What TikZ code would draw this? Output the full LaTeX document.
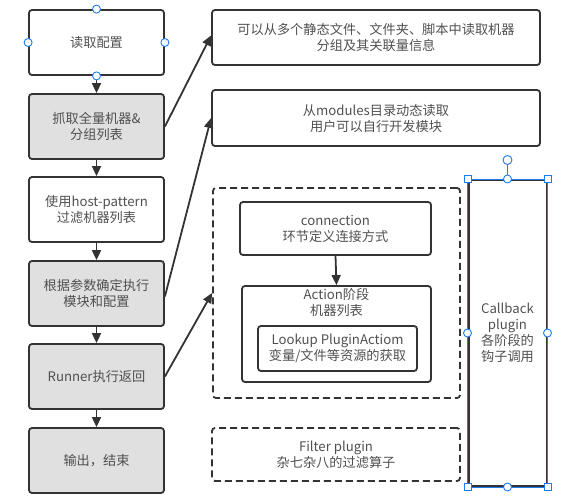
\documentclass[tikz,border=0pt]{standalone}
\usepackage{fontspec}
\setmainfont{Noto Sans CJK SC}
\usetikzlibrary{arrows.meta}
\definecolor{ln}{HTML}{333333}
\definecolor{tx}{HTML}{505050}
\definecolor{gf}{HTML}{E0E0E0}
\definecolor{hb}{HTML}{1E7BF0}
\tikzset{
  box/.style={draw=ln, line width=1.8pt, rounded corners=3pt, align=center, text=tx,
    font=\fontsize{13.2}{16}\selectfont, inner sep=0pt},
  gbox/.style={box, fill=gf},
  dbox/.style={box, dash pattern=on 7pt off 4pt},
  lbl/.style={align=center, text=tx, font=\fontsize{13.2}{16}\selectfont, inner sep=0pt},
  arr/.style={draw=ln, line width=1.8pt, -{Triangle[width=9pt,length=10pt]}},
  hcirc/.style={circle, draw=hb, fill=white, line width=0.9pt, minimum size=8pt, inner sep=0pt},
  hsq/.style={rectangle, draw=hb, fill=white, line width=0.9pt, minimum size=7pt, inner sep=0pt},
}
\begin{document}
\begin{tikzpicture}[x=1pt,y=-1pt]
\useasboundingbox (0,0) rectangle (571,501);
% left column
\node[box, minimum width=135pt, minimum height=65pt] (b1) at (96.5,42.5) {读取配置};
\node[gbox, minimum width=135pt, minimum height=65pt] (b2) at (96.5,126.5) {抓取全量机器\&\\分组列表};
\node[box, minimum width=135pt, minimum height=65pt] (b3) at (96.5,209.5) {使用host-pattern\\过滤机器列表};
\node[gbox, minimum width=135pt, minimum height=65pt] (b4) at (96.5,293.5) {根据参数确定执行\\模块和配置};
\node[gbox, minimum width=135pt, minimum height=65pt] (b5) at (96.5,376.5) {Runner执行返回};
\node[gbox, minimum width=135pt, minimum height=65pt] (b6) at (96.5,460.5) {输出，结束};
\draw[arr] (b1.south) -- (b2.north);
\draw[arr] (b2.south) -- (b3.north);
\draw[arr] (b3.south) -- (b4.north);
\draw[arr] (b4.south) -- (b5.north);
\draw[arr] (b5.south) -- (b6.north);
% right column
\node[box, minimum width=328pt, minimum height=55pt] (r1) at (376,37.5) {可以从多个静态文件、文件夹、脚本中读取机器\\分组及其关联量信息};
\node[box, minimum width=328pt, minimum height=56pt] (r2) at (376,118) {从modules目录动态读取\\用户可以自行开发模块};
\node[dbox, minimum width=247pt, minimum height=210pt] (dg) at (336.5,293) {};
\node[box, minimum width=191pt, minimum height=53pt] (cn) at (335.5,228.5) {connection\\环节定义连接方式};
\node[box, minimum width=189pt, minimum height=96pt] (ac) at (336.5,334) {};
\node[lbl] (acl) at (336.5,302) {Action阶段\\机器列表};
\node[box, minimum width=159pt, minimum height=45pt] (lk) at (337.5,348.5) {Lookup PluginActiom\\变量/文件等资源的获取};
\draw[arr] (cn.south) -- (ac.north);
\node[dbox, minimum width=248pt, minimum height=53pt] (fl) at (336,454.5) {Filter plugin\\杂七杂八的过滤算子};
% callback
\node[draw=ln, line width=2pt, minimum width=78pt, minimum height=306pt, inner sep=0pt] (cb) at (507.5,333) {};
\draw[hb, line width=0.8pt] (cb.north west) rectangle (cb.south east);
\node[lbl] (cbl) at (507.5,333) {Callback\\plugin\\各阶段的\\钩子调用};
% arrows to right
\draw[arr] (b2.east) -- ([yshift=2pt]r1.west);
\draw[arr] ([yshift=-3pt]b4.east) -- (r2.west);
\draw[arr] (b5.east) -- (dg.west);
% selection handles
\node[hcirc] (h1) at (b1.north) {};
\node[hcirc] (h2) at (b1.south) {};
\node[hcirc] (h3) at (b1.west) {};
\node[hcirc] (h4) at (b1.east) {};
\coordinate (rot) at (507.5,160);
\draw[hb, line width=0.9pt] (cb.north) -- (rot);
\node[hcirc, minimum size=9pt] (h5) at (rot) {};
\node[hcirc] (h6) at (cb.north) {};
\node[hcirc] (h7) at (cb.south) {};
\node[hcirc] (h8) at (cb.west) {};
\node[hcirc] (h9) at (cb.east) {};
\node[hsq] (s1) at (cb.north west) {};
\node[hsq] (s2) at (cb.north east) {};
\node[hsq] (s3) at (cb.south west) {};
\node[hsq] (s4) at (cb.south east) {};
\end{tikzpicture}
\end{document}
